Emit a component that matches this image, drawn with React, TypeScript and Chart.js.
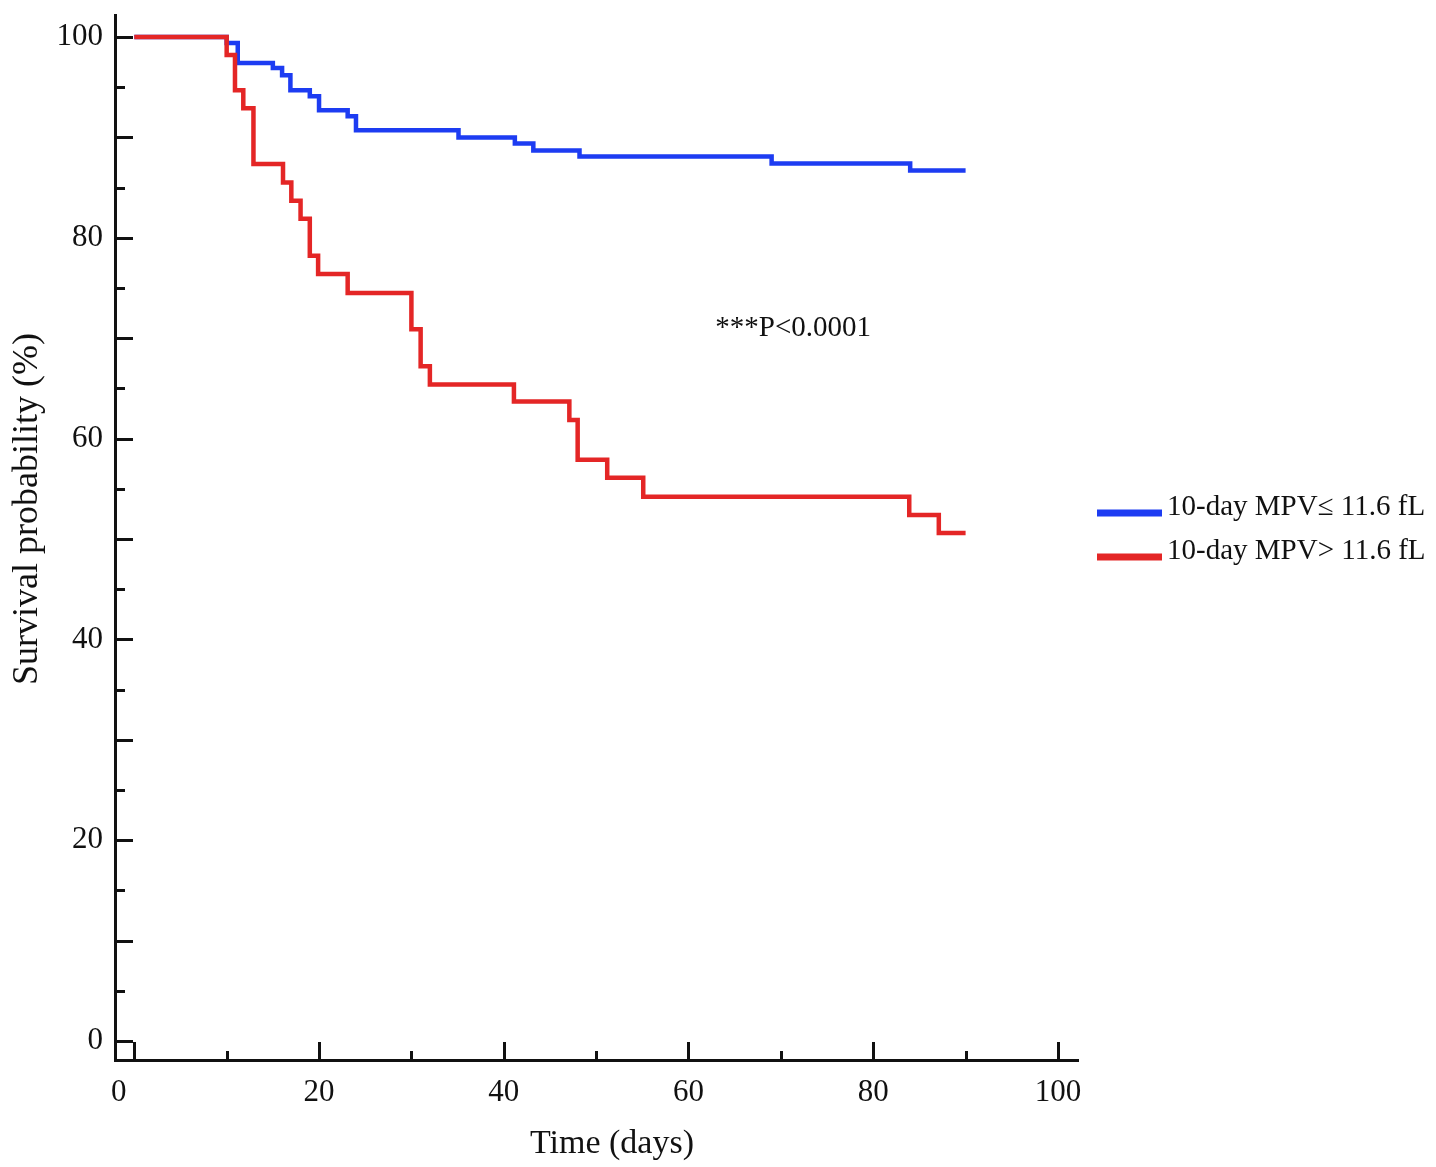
import { useEffect, useRef } from "react";
import { Chart, registerables } from "chart.js";

Chart.register(...registerables);

// ---------- data ----------
const lowMpvLabel = "10-day MPV\u2264 11.6 fL";
const highMpvLabel = "10-day MPV> 11.6 fL";

const lowMpvTimes = [0, 10, 11.2, 15, 16, 16.9, 19, 20, 23.1, 24, 35.1, 41.2, 43.2, 48.2, 69, 84, 90];
const lowMpvSurvival = [100, 99.4, 97.4, 96.9, 96.2, 94.7, 94.1, 92.7, 92.1, 90.7, 90.0, 89.4, 88.7, 88.1, 87.4, 86.7, 86.7];

const highMpvTimes = [0, 10, 10.9, 11.8, 12.9, 16.1, 17, 18, 19, 19.9, 23.1, 30, 31, 32, 41.1, 47.1, 48, 51.2, 55.1, 83.9, 87.1, 90];
const highMpvSurvival = [100, 98.2, 94.7, 92.9, 87.35, 85.5, 83.7, 81.9, 78.2, 76.4, 74.5, 70.9, 67.2, 65.4, 63.7, 61.85, 57.9, 56.1, 54.2, 52.4, 50.6, 50.6];

const xTickLabels = [0, 20, 40, 60, 80, 100];
const xMinorTicks = [10, 30, 50, 70, 90];
const yTickLabels = [0, 20, 40, 60, 80, 100];
const yMidTicks = [10, 30, 50, 70, 90];
const yMinorTicks = [5, 15, 25, 35, 45, 55, 65, 75, 85, 95];

const xAxisTitle = "Time (days)";
const yAxisTitle = "Survival probability (%)";
const pValueText = "***P<0.0001";
const pValueAt = { x: 62.9, y: 71.0 };

const xRange = { min: -2.09, max: 102.17 };
const yRange = { min: -1.89, max: 102.19 };

// ---------- styles ----------
const FONT = "'Liberation Serif', 'Times New Roman', Times, serif";
const INK = "#111111";
const BLUE = "#1d3cf2";
const RED = "#e42626";

const decorPlugin = {
  id: "decor",
  afterDraw(chart: any) {
    const { ctx, chartArea, scales } = chart;
    const xs = scales.x;
    const ys = scales.y;
    ctx.save();
    ctx.strokeStyle = INK;
    ctx.lineWidth = 3;
    ctx.lineCap = "butt";

    const xTick = (v: number, len: number) => {
      const px = Math.round(xs.getPixelForValue(v)) + 0.5;
      ctx.beginPath();
      ctx.moveTo(px, chartArea.bottom);
      ctx.lineTo(px, chartArea.bottom - len);
      ctx.stroke();
    };
    const yTick = (v: number, len: number) => {
      const py = Math.round(ys.getPixelForValue(v)) + 0.5;
      ctx.beginPath();
      ctx.moveTo(chartArea.left, py);
      ctx.lineTo(chartArea.left + len, py);
      ctx.stroke();
    };
    xTickLabels.forEach((v) => xTick(v, 18));
    xMinorTicks.forEach((v) => xTick(v, 9));
    yTickLabels.forEach((v) => yTick(v, 18));
    yMidTicks.forEach((v) => yTick(v, 18));
    yMinorTicks.forEach((v) => yTick(v, 10));

    // axis titles
    ctx.fillStyle = INK;
    ctx.textAlign = "center";
    ctx.textBaseline = "middle";
    ctx.font = `34px ${FONT}`;
    ctx.fillText(xAxisTitle, 612, 1144);
    ctx.save();
    ctx.translate(28, 509);
    ctx.rotate(-Math.PI / 2);
    ctx.font = `36px ${FONT}`;
    ctx.fillText(yAxisTitle, 0, 0);
    ctx.restore();

    // p-value annotation
    ctx.textAlign = "left";
    ctx.font = `29px ${FONT}`;
    ctx.fillText(pValueText, xs.getPixelForValue(pValueAt.x), ys.getPixelForValue(pValueAt.y));

    // legend
    const entries = chart.data.datasets.map((d: any) => ({ label: d.label, color: d.borderColor }));
    const legendRows = [
      { lineY: 513, textY: 507 },
      { lineY: 557, textY: 551 },
    ];
    entries.forEach((e: any, i: number) => {
      const row = legendRows[i];
      ctx.strokeStyle = e.color;
      ctx.lineWidth = 7;
      ctx.beginPath();
      ctx.moveTo(1097, row.lineY);
      ctx.lineTo(1162, row.lineY);
      ctx.stroke();
      ctx.fillStyle = INK;
      ctx.font = `29px ${FONT}`;
      ctx.textAlign = "left";
      ctx.fillText(e.label, 1167, row.textY);
    });
    ctx.restore();
  },
};

export default function App() {
  const canvasRef = useRef<HTMLCanvasElement | null>(null);

  useEffect(() => {
    const canvas = canvasRef.current;
    if (!canvas) return;
    const lowData = lowMpvTimes.map((t, i) => ({ x: t, y: lowMpvSurvival[i] }));
    const highData = highMpvTimes.map((t, i) => ({ x: t, y: highMpvSurvival[i] }));

    const chart = new Chart(canvas, {
      type: "line",
      data: {
        datasets: [
          {
            label: lowMpvLabel,
            data: lowData,
            borderColor: BLUE,
            backgroundColor: BLUE,
            borderWidth: 4.5,
            stepped: "before",
            pointRadius: 0,
            fill: false,
            order: 2,
          },
          {
            label: highMpvLabel,
            data: highData,
            borderColor: RED,
            backgroundColor: RED,
            borderWidth: 4.5,
            stepped: "before",
            pointRadius: 0,
            fill: false,
            order: 1,
          },
        ],
      },
      options: {
        responsive: false,
        animation: false,
        layout: { padding: { top: 15, right: 358, left: 0, bottom: 0 } },
        plugins: {
          legend: { display: false },
          tooltip: { enabled: false },
        },
        scales: {
          x: {
            type: "linear",
            min: xRange.min,
            max: xRange.max,
            afterBuildTicks: (s: any) => {
              s.ticks = xTickLabels.map((v) => ({ value: v }));
            },
            afterFit: (s: any) => {
              s.height = 107;
              s.paddingLeft = 0;
              s.paddingRight = 0;
              s.paddingTop = 0;
              s.paddingBottom = 0;
            },
            grid: { display: false, drawTicks: false },
            border: { display: true, color: INK, width: 3 },
            ticks: {
              font: { family: FONT, size: 31 },
              color: INK,
              padding: 14,
              maxRotation: 0,
              autoSkip: false,
              callback: (v: any) => (Number(v) === 0 ? "0    " : String(v)),
            },
          },
          y: {
            type: "linear",
            min: yRange.min,
            max: yRange.max,
            afterBuildTicks: (s: any) => {
              s.ticks = yTickLabels.map((v) => ({ value: v }));
            },
            afterFit: (s: any) => {
              s.width = 115;
              s.paddingLeft = 0;
              s.paddingRight = 0;
              s.paddingTop = 0;
              s.paddingBottom = 0;
            },
            grid: { display: false, drawTicks: false },
            border: { display: true, color: INK, width: 3 },
            ticks: {
              font: { family: FONT, size: 31 },
              color: INK,
              padding: 12,
              autoSkip: false,
              callback: (v: any) => String(v),
            },
          },
        },
      },
      plugins: [decorPlugin],
    });
    return () => chart.destroy();
  }, []);

  return (
    <div style={{ position: "absolute", left: 0, top: 0, width: 1436, height: 1167, background: "#ffffff" }}>
      <canvas ref={canvasRef} width={1436} height={1167} style={{ display: "block" }} />
    </div>
  );
}
